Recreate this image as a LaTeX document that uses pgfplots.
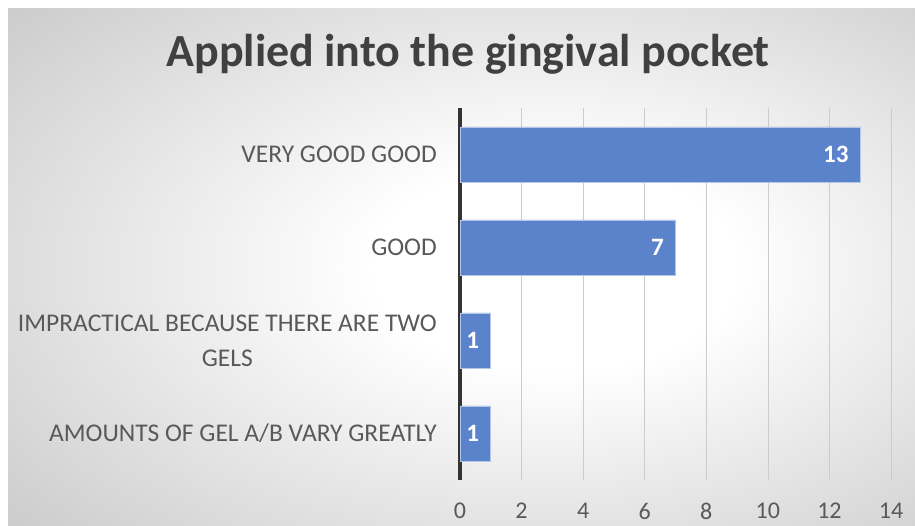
\documentclass[border=0pt]{standalone}
\usepackage{pgfplots}
\pgfplotsset{compat=1.18}
\usepackage{fontspec}
\setmainfont{Carlito}

\definecolor{barblue}{RGB}{90,131,204}
\definecolor{txtgray}{RGB}{89,89,89}
\definecolor{titlegray}{RGB}{64,64,64}
\definecolor{bggray}{RGB}{188,188,188}
\definecolor{axisdark}{RGB}{51,51,51}

\pgfdeclareradialshading{bgshade}{\pgfpoint{6bp}{0bp}}{%
  color(0bp)=(white); color(10bp)=(white); color(46bp)=(bggray); color(72bp)=(bggray!90!black)}

\begin{document}
\begin{tikzpicture}[x=1pt,y=1pt]
\useasboundingbox (0,0) rectangle (915,526);
\fill[white] (0,0) rectangle (915,526);
\shade[shading=bgshade] (8,0) rectangle (915,517);

% title
\node[font=\fontsize{46}{50}\selectfont\bfseries, text=titlegray] at (468,472) {Applied into the gingival pocket};

\begin{axis}[
    at={(460pt,46pt)}, anchor=south west,
    scale only axis,
    width=431pt, height=372pt,
    xbar, bar width=55pt,
    xmin=0, xmax=14, ymin=-0.5, ymax=3.5,
    xtick={2,4,...,14},
    extra x ticks={0},
    extra x tick style={grid style={axisdark, line width=4pt}},
    ytick={0,1,2,3},
    yticklabels={AMOUNTS OF GEL A/B VARY GREATLY,{IMPRACTICAL BECAUSE THERE ARE TWO\\GELS},GOOD,VERY GOOD GOOD},
    xmajorgrids,
    grid style={draw=black!20, line width=0.7pt},
    axis line style={draw=none},
    major tick length=0pt,
    tick style={draw=none},
    /pgf/number format/assume math mode=true,
    xticklabel style={font=\fontsize{24}{26}\selectfont, text=txtgray, inner sep=0pt, yshift=-23pt},
    yticklabel style={font=\fontsize{25.5}{35}\selectfont, text=txtgray, align=center, inner sep=0pt, xshift=-23pt},
    nodes near coords,
    nodes near coords style={font=\fontsize{25}{27}\selectfont\bfseries, text=white, anchor=east, xshift=-8pt},
]
\addplot[fill=barblue, draw=white!55!barblue, line width=0.6pt] coordinates {
    (1,0)
    (1,1)
    (7,2)
    (13,3)
};
\end{axis}
\end{tikzpicture}
\end{document}
